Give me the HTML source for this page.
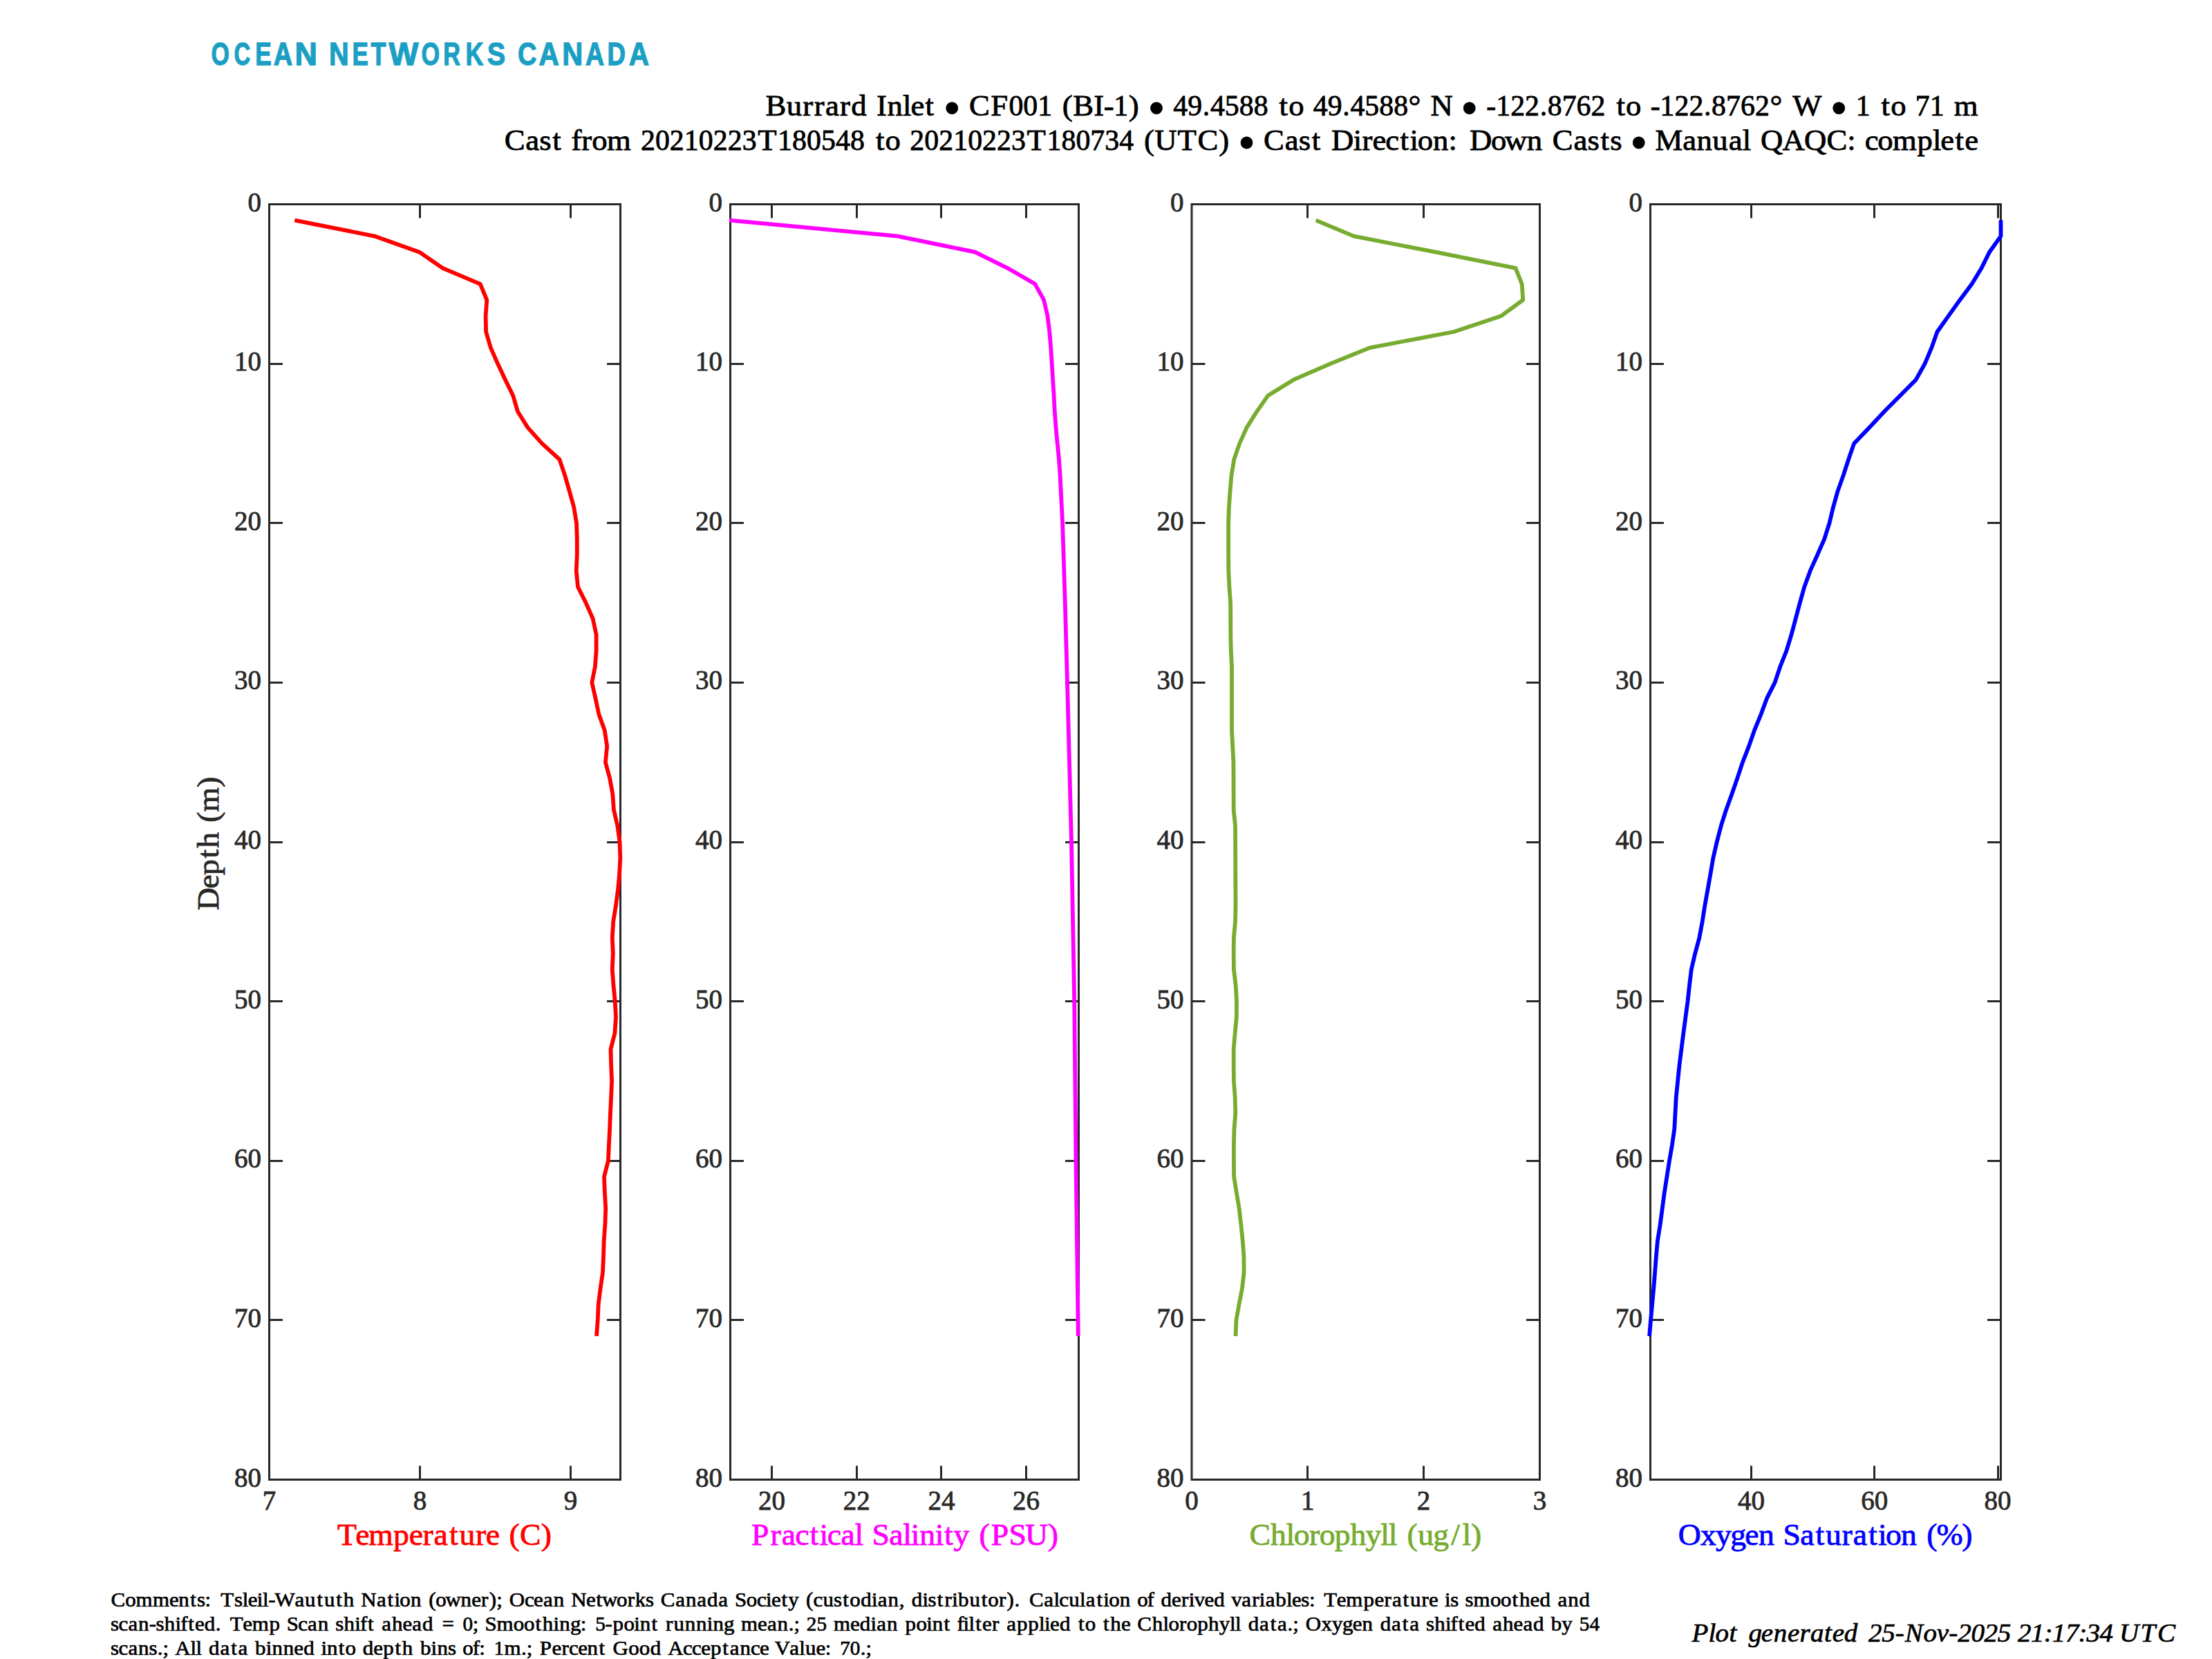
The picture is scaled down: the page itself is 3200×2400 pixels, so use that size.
<!DOCTYPE html>
<html lang="en"><head><meta charset="utf-8"><title>CTD cast plot</title>
<style>
html,body{margin:0;padding:0;background:#fff}
svg{display:block}
text{font-family:"Liberation Serif", serif}
.tk{font-size:39px;fill:#282828;stroke:#282828;stroke-width:.8px}
.lb{font-size:45.5px}
.tt{fill:#000;stroke:#000;stroke-width:.8px}
.cm{fill:#000;stroke:#000;stroke-width:.7px}
.pg{font-style:italic;fill:#000;stroke:#000;stroke-width:.7px}
.lg{font-family:"Liberation Sans",sans-serif;font-weight:700;fill:#1b9fc4;stroke:#1b9fc4}
</style></head><body>
<svg width="3200" height="2400" viewBox="0 0 3200 2400">
<rect width="3200" height="2400" fill="#fff"/>
<g><rect x="389.5" y="295.5" width="508.0" height="1845.0" fill="none" stroke="#282828" stroke-width="3"/>
<path d="M389.5 526.5h19.5 M897.5 526.5h-19.5 M389.5 756.5h19.5 M897.5 756.5h-19.5 M389.5 987.5h19.5 M897.5 987.5h-19.5 M389.5 1218.5h19.5 M897.5 1218.5h-19.5 M389.5 1448.5h19.5 M897.5 1448.5h-19.5 M389.5 1679.5h19.5 M897.5 1679.5h-19.5 M389.5 1909.5h19.5 M897.5 1909.5h-19.5 M607.5 2140.5v-20 M607.5 295.5v20 M825.5 2140.5v-20 M825.5 295.5v20" stroke="#282828" stroke-width="3" fill="none"/>
<text x="378.0" y="305.5" text-anchor="end" class="tk">0</text>
<text x="378.0" y="536.1" text-anchor="end" class="tk">10</text>
<text x="378.0" y="766.8" text-anchor="end" class="tk">20</text>
<text x="378.0" y="997.4" text-anchor="end" class="tk">30</text>
<text x="378.0" y="1228.0" text-anchor="end" class="tk">40</text>
<text x="378.0" y="1458.6" text-anchor="end" class="tk">50</text>
<text x="378.0" y="1689.2" text-anchor="end" class="tk">60</text>
<text x="378.0" y="1919.9" text-anchor="end" class="tk">70</text>
<text x="378.0" y="2150.5" text-anchor="end" class="tk">80</text>
<text x="389.5" y="2184.3" text-anchor="middle" class="tk">7</text>
<text x="607.5" y="2184.3" text-anchor="middle" class="tk">8</text>
<text x="825.5" y="2184.3" text-anchor="middle" class="tk">9</text>
<g transform="translate(643.5 2235.0)" class="lb"><text transform="scale(1.05 1)" x="-148.2 -123.2 -105.1 -71.0 -49.4 -30.4 -15.2 6.1 20.0 42.4 56.5 75.0 88.6 103.4 132.7" y="0" font-size="43.50" fill="#ff0000" stroke="#ff0000" stroke-width=".8">Temperature (C)</text></g>
<polyline points="426.3,318.6 541.6,341.6 606.7,364.7 640.4,387.8 694.7,410.8 704.3,433.9 702.6,456.9 703.1,480.0 709.9,503.1 720.0,526.1 730.9,549.2 742.2,572.2 748.9,595.3 763.4,618.4 783.9,641.4 809.3,664.5 817.2,687.6 823.8,710.6 830.2,733.7 834.0,756.8 834.8,779.8 834.8,802.9 833.7,825.9 836.0,849.0 847.6,872.1 857.7,895.1 862.6,918.2 862.6,941.2 860.9,964.3 856.3,987.4 861.5,1010.4 866.4,1033.5 874.7,1056.6 878.2,1079.6 875.9,1102.7 882.1,1125.8 886.3,1148.8 888.0,1171.9 893.4,1194.9 896.5,1218.0 897.3,1241.1 896.1,1264.1 894.0,1287.2 890.9,1310.2 887.2,1333.3 885.8,1356.4 886.8,1379.4 885.8,1402.5 887.5,1425.6 889.7,1448.6 891.0,1471.7 889.4,1494.8 883.5,1517.8 884.1,1540.9 885.1,1563.9 884.1,1587.0 883.0,1610.1 882.1,1633.1 880.9,1656.2 879.9,1679.2 874.0,1702.3 874.9,1725.4 876.2,1748.4 875.4,1771.5 873.7,1794.6 873.0,1817.6 872.0,1840.7 868.6,1863.8 865.7,1886.8 864.7,1909.9 863.0,1932.9" fill="none" stroke="#ff0000" stroke-width="5.8" stroke-linejoin="round" stroke-linecap="butt"/></g>
<g><rect x="1056.5" y="295.5" width="504.0" height="1845.0" fill="none" stroke="#282828" stroke-width="3"/>
<path d="M1056.5 526.5h19.5 M1560.5 526.5h-19.5 M1056.5 756.5h19.5 M1560.5 756.5h-19.5 M1056.5 987.5h19.5 M1560.5 987.5h-19.5 M1056.5 1218.5h19.5 M1560.5 1218.5h-19.5 M1056.5 1448.5h19.5 M1560.5 1448.5h-19.5 M1056.5 1679.5h19.5 M1560.5 1679.5h-19.5 M1056.5 1909.5h19.5 M1560.5 1909.5h-19.5 M1116.5 2140.5v-20 M1116.5 295.5v20 M1239.5 2140.5v-20 M1239.5 295.5v20 M1361.5 2140.5v-20 M1361.5 295.5v20 M1484.5 2140.5v-20 M1484.5 295.5v20" stroke="#282828" stroke-width="3" fill="none"/>
<text x="1045.0" y="305.5" text-anchor="end" class="tk">0</text>
<text x="1045.0" y="536.1" text-anchor="end" class="tk">10</text>
<text x="1045.0" y="766.8" text-anchor="end" class="tk">20</text>
<text x="1045.0" y="997.4" text-anchor="end" class="tk">30</text>
<text x="1045.0" y="1228.0" text-anchor="end" class="tk">40</text>
<text x="1045.0" y="1458.6" text-anchor="end" class="tk">50</text>
<text x="1045.0" y="1689.2" text-anchor="end" class="tk">60</text>
<text x="1045.0" y="1919.9" text-anchor="end" class="tk">70</text>
<text x="1045.0" y="2150.5" text-anchor="end" class="tk">80</text>
<text x="1116.5" y="2184.3" text-anchor="middle" class="tk">20</text>
<text x="1239.3" y="2184.3" text-anchor="middle" class="tk">22</text>
<text x="1361.9" y="2184.3" text-anchor="middle" class="tk">24</text>
<text x="1484.5" y="2184.3" text-anchor="middle" class="tk">26</text>
<g transform="translate(1308.5 2235.0)" class="lb"><text transform="scale(1.05 1)" x="-210.9 -184.7 -169.4 -150.6 -130.4 -117.1 -106.4 -87.6 -68.5 -56.9 -44.7 -21.2 -2.1 8.9 20.7 42.1 54.8 67.7 89.1 102.8 119.3 143.9 166.3 197.4" y="0" font-size="43.50" fill="#ff00ff" stroke="#ff00ff" stroke-width=".8">Practical Salinity (PSU)</text></g>
<polyline points="1055.0,318.6 1298.4,341.6 1410.5,364.7 1457.5,387.8 1497.3,410.8 1510.1,433.9 1515.4,456.9 1518.3,480.0 1520.2,503.1 1521.7,526.1 1523.1,549.2 1524.6,572.2 1525.8,595.3 1527.5,618.4 1529.7,641.4 1532.0,664.5 1533.6,687.6 1537.1,756.8 1540.8,872.1 1544.0,987.4 1550.0,1218.0 1554.2,1448.6 1556.5,1679.2 1559.8,1932.9" fill="none" stroke="#ff00ff" stroke-width="5.8" stroke-linejoin="round" stroke-linecap="butt"/></g>
<g><rect x="1724.0" y="295.5" width="503.5" height="1845.0" fill="none" stroke="#282828" stroke-width="3"/>
<path d="M1724.0 526.5h19.5 M2227.5 526.5h-19.5 M1724.0 756.5h19.5 M2227.5 756.5h-19.5 M1724.0 987.5h19.5 M2227.5 987.5h-19.5 M1724.0 1218.5h19.5 M2227.5 1218.5h-19.5 M1724.0 1448.5h19.5 M2227.5 1448.5h-19.5 M1724.0 1679.5h19.5 M2227.5 1679.5h-19.5 M1724.0 1909.5h19.5 M2227.5 1909.5h-19.5 M1891.5 2140.5v-20 M1891.5 295.5v20 M2059.5 2140.5v-20 M2059.5 295.5v20" stroke="#282828" stroke-width="3" fill="none"/>
<text x="1712.5" y="305.5" text-anchor="end" class="tk">0</text>
<text x="1712.5" y="536.1" text-anchor="end" class="tk">10</text>
<text x="1712.5" y="766.8" text-anchor="end" class="tk">20</text>
<text x="1712.5" y="997.4" text-anchor="end" class="tk">30</text>
<text x="1712.5" y="1228.0" text-anchor="end" class="tk">40</text>
<text x="1712.5" y="1458.6" text-anchor="end" class="tk">50</text>
<text x="1712.5" y="1689.2" text-anchor="end" class="tk">60</text>
<text x="1712.5" y="1919.9" text-anchor="end" class="tk">70</text>
<text x="1712.5" y="2150.5" text-anchor="end" class="tk">80</text>
<text x="1724.0" y="2184.3" text-anchor="middle" class="tk">0</text>
<text x="1891.8" y="2184.3" text-anchor="middle" class="tk">1</text>
<text x="2059.6" y="2184.3" text-anchor="middle" class="tk">2</text>
<text x="2227.5" y="2184.3" text-anchor="middle" class="tk">3</text>
<g transform="translate(1975.8 2235.0)" class="lb"><text transform="scale(1.05 1)" x="-160.2 -131.2 -109.8 -99.2 -77.8 -63.8 -42.8 -21.3 -0.3 20.5 31.5 43.1 56.8 71.9 92.9 117.6 133.0 145.0" y="0" font-size="43.50" fill="#77ac30" stroke="#77ac30" stroke-width=".8">Chlorophyll (ug/l)</text></g>
<polyline points="1903.6,318.6 1958.5,341.6 2076.7,364.7 2192.5,387.8 2201.6,410.8 2203.3,433.9 2172.0,456.9 2103.2,480.0 1981.5,503.1 1924.8,526.1 1871.7,549.2 1834.4,572.2 1818.2,595.3 1803.7,618.4 1793.3,641.4 1785.3,664.5 1781.5,687.6 1779.5,710.6 1777.9,733.7 1777.1,756.8 1777.1,779.8 1777.1,802.9 1777.3,825.9 1778.4,849.0 1780.1,872.1 1780.3,895.1 1780.3,918.2 1780.8,941.2 1782.0,964.3 1782.0,987.4 1782.0,1056.6 1784.4,1102.7 1784.7,1171.9 1787.0,1194.9 1787.5,1310.2 1787.0,1333.3 1784.9,1356.4 1784.7,1379.4 1784.9,1402.5 1787.7,1425.6 1789.0,1448.6 1788.8,1471.7 1786.6,1494.8 1784.7,1517.8 1784.7,1540.9 1784.9,1563.9 1786.6,1587.0 1787.3,1610.1 1785.5,1633.1 1784.9,1656.2 1784.9,1679.2 1785.1,1702.3 1788.8,1725.4 1792.7,1748.4 1795.3,1771.5 1797.7,1794.6 1799.4,1817.6 1799.6,1840.7 1797.0,1863.8 1792.5,1886.8 1788.4,1909.9 1787.5,1932.9" fill="none" stroke="#77ac30" stroke-width="5.8" stroke-linejoin="round" stroke-linecap="butt"/></g>
<g><rect x="2387.5" y="295.5" width="507.0" height="1845.0" fill="none" stroke="#282828" stroke-width="3"/>
<path d="M2387.5 526.5h19.5 M2894.5 526.5h-19.5 M2387.5 756.5h19.5 M2894.5 756.5h-19.5 M2387.5 987.5h19.5 M2894.5 987.5h-19.5 M2387.5 1218.5h19.5 M2894.5 1218.5h-19.5 M2387.5 1448.5h19.5 M2894.5 1448.5h-19.5 M2387.5 1679.5h19.5 M2894.5 1679.5h-19.5 M2387.5 1909.5h19.5 M2894.5 1909.5h-19.5 M2533.5 2140.5v-20 M2533.5 295.5v20 M2711.5 2140.5v-20 M2711.5 295.5v20 M2890.5 2140.5v-20 M2890.5 295.5v20" stroke="#282828" stroke-width="3" fill="none"/>
<text x="2376.0" y="305.5" text-anchor="end" class="tk">0</text>
<text x="2376.0" y="536.1" text-anchor="end" class="tk">10</text>
<text x="2376.0" y="766.8" text-anchor="end" class="tk">20</text>
<text x="2376.0" y="997.4" text-anchor="end" class="tk">30</text>
<text x="2376.0" y="1228.0" text-anchor="end" class="tk">40</text>
<text x="2376.0" y="1458.6" text-anchor="end" class="tk">50</text>
<text x="2376.0" y="1689.2" text-anchor="end" class="tk">60</text>
<text x="2376.0" y="1919.9" text-anchor="end" class="tk">70</text>
<text x="2376.0" y="2150.5" text-anchor="end" class="tk">80</text>
<text x="2533.5" y="2184.3" text-anchor="middle" class="tk">40</text>
<text x="2711.7" y="2184.3" text-anchor="middle" class="tk">60</text>
<text x="2890.0" y="2184.3" text-anchor="middle" class="tk">80</text>
<g transform="translate(2641.0 2235.0)" class="lb"><text transform="scale(1.05 1)" x="-203.1 -172.4 -151.4 -131.1 -111.1 -92.5 -70.6 -58.5 -35.1 -13.8 0.1 22.5 37.8 59.1 72.3 82.9 103.8 125.7 139.4 152.8 187.9" y="0" font-size="43.50" fill="#0000ff" stroke="#0000ff" stroke-width=".8">Oxygen Saturation (%)</text></g>
<polyline points="2894.5,318.6 2894.5,341.6 2878.0,364.7 2866.6,387.8 2852.6,410.8 2835.3,433.9 2818.9,456.9 2802.5,480.0 2794.3,503.1 2784.6,526.1 2771.8,549.2 2748.9,572.2 2726.0,595.3 2704.3,618.4 2682.2,641.4 2674.2,664.5 2666.7,687.6 2658.5,710.6 2652.0,733.7 2646.5,756.8 2639.2,779.8 2629.1,802.9 2618.7,825.9 2610.3,849.0 2603.8,872.1 2597.7,895.1 2591.5,918.2 2584.5,941.2 2575.3,964.3 2567.6,987.4 2556.0,1010.4 2547.5,1033.5 2538.0,1056.6 2530.0,1079.6 2521.0,1102.7 2513.3,1125.8 2505.4,1148.8 2497.0,1171.9 2489.7,1194.9 2483.7,1218.0 2478.4,1241.1 2474.5,1264.1 2470.4,1287.2 2466.3,1310.2 2462.7,1333.3 2458.4,1356.4 2452.2,1379.4 2446.8,1402.5 2444.0,1425.6 2441.5,1448.6 2435.3,1494.8 2429.5,1540.9 2424.8,1587.0 2422.3,1633.1 2419.0,1656.2 2415.0,1679.2 2407.8,1725.4 2401.7,1771.5 2398.0,1794.6 2395.9,1817.6 2392.3,1863.8 2388.0,1909.9 2386.1,1932.9" fill="none" stroke="#0000ff" stroke-width="5.8" stroke-linejoin="round" stroke-linecap="butt"/></g>
<g transform="translate(315.7 1219.8) rotate(-90)" class="lb"><text transform="scale(1.05 1)" x="-92.5 -62.6 -44.1 -20.6 -6.7 15.1 28.7 43.2 77.0" y="0" font-size="43.50" fill="#282828" stroke="#282828" stroke-width=".8">Depth (m)</text></g>
<text y="93.9" class="lg" font-size="45.5" stroke-width="1.3"><tspan x="305.5" textLength="26.3" lengthAdjust="spacingAndGlyphs">O</tspan><tspan x="338.4" textLength="23.7" lengthAdjust="spacingAndGlyphs">C</tspan><tspan x="369.2" textLength="23.5" lengthAdjust="spacingAndGlyphs">E</tspan><tspan x="395.8" textLength="27.4" lengthAdjust="spacingAndGlyphs">A</tspan><tspan x="426.6" textLength="32.4" lengthAdjust="spacingAndGlyphs">N</tspan> <tspan x="476.0" textLength="28.7" lengthAdjust="spacingAndGlyphs">N</tspan><tspan x="509.5" textLength="23.4" lengthAdjust="spacingAndGlyphs">E</tspan><tspan x="536.5" textLength="21.9" lengthAdjust="spacingAndGlyphs">T</tspan><tspan x="562.6" textLength="42.9" lengthAdjust="spacingAndGlyphs">W</tspan><tspan x="609.4" textLength="26.6" lengthAdjust="spacingAndGlyphs">O</tspan><tspan x="641.2" textLength="24.7" lengthAdjust="spacingAndGlyphs">R</tspan><tspan x="673.6" textLength="25.8" lengthAdjust="spacingAndGlyphs">K</tspan><tspan x="704.7" textLength="26.4" lengthAdjust="spacingAndGlyphs">S</tspan> <tspan x="749.0" textLength="27.4" lengthAdjust="spacingAndGlyphs">C</tspan><tspan x="779.6" textLength="29.3" lengthAdjust="spacingAndGlyphs">A</tspan><tspan x="813.2" textLength="30.0" lengthAdjust="spacingAndGlyphs">N</tspan><tspan x="846.9" textLength="27.0" lengthAdjust="spacingAndGlyphs">A</tspan><tspan x="878.6" textLength="26.4" lengthAdjust="spacingAndGlyphs">D</tspan><tspan x="909.8" textLength="29.3" lengthAdjust="spacingAndGlyphs">A</tspan></text>
<g transform="translate(2861.5 167.3)" class="tt"><text transform="scale(1.07 1)" x="-1639.3 -1611.1 -1589.0 -1573.7 -1558.5 -1538.8 -1523.7 -1502.4 -1489.2 -1474.7 -1453.8 -1443.1 -1423.3" y="0" font-size="41.80">Burrard Inlet</text> <text x="-1496.7" y="12.9" font-size="71.4">•</text> <text transform="scale(1.07 1)" x="-1364.0 -1334.8" y="0" font-size="41.80">CF</text><text x="-1402.1 -1381.2 -1360.2" y="0" font-size="41.80">001</text> <text transform="scale(1.07 1)" x="-1238.0 -1223.5 -1195.6 -1182.0" y="0" font-size="41.80">(BI-</text><text x="-1250.3" y="0" font-size="41.80">1</text><text transform="scale(1.07 1)" x="-1148.3" y="0" font-size="41.80">)</text> <text x="-1201.1" y="12.9" font-size="71.4">•</text> <text x="-1164.2 -1143.2 -1121.7 -1110.6 -1089.7 -1068.7 -1047.8" y="0" font-size="41.80">49.4588</text> <text transform="scale(1.07 1)" x="-944.8 -932.0" y="0" font-size="41.80">to</text> <text x="-961.7 -940.7 -919.2 -908.1 -887.2 -866.2 -845.3" y="0" font-size="41.80">49.4588</text><text transform="scale(1.07 1)" x="-770.0 -752.8 -740.2" y="0" font-size="41.80">° N</text> <text x="-748.2" y="12.9" font-size="71.4">•</text> <text x="-711.2 -697.3 -676.3 -655.4 -633.8 -622.8 -601.8 -580.9 -559.9" y="0" font-size="41.80">-122.8762</text> <text transform="scale(1.07 1)" x="-488.9 -476.1" y="0" font-size="41.80">to</text> <text x="-473.8 -459.9 -438.9 -418.0 -396.4 -385.4 -364.4 -343.5 -322.5" y="0" font-size="41.80">-122.8762</text><text transform="scale(1.07 1)" x="-281.4 -264.2 -250.8" y="0" font-size="41.80">° W</text> <text x="-213.8" y="12.9" font-size="71.4">•</text> <text x="-176.8" y="0" font-size="41.80">1</text> <text transform="scale(1.07 1)" x="-130.9 -118.1" y="0" font-size="41.80">to</text> <text x="-90.7 -69.8" y="0" font-size="41.80">71</text> <text transform="scale(1.07 1)" x="-32.6" y="0" font-size="41.80">m</text></g>
<g transform="translate(2861.5 217.3)" class="tt"><text transform="scale(1.07 1)" x="-1992.3 -1963.7 -1945.0 -1927.3 -1913.9 -1901.8 -1888.1 -1874.1 -1853.8" y="0" font-size="41.80">Cast from</text> <text x="-1934.6 -1913.6 -1892.7 -1871.7 -1850.7 -1829.7 -1808.7 -1787.7" y="0" font-size="41.80">20210223</text><text transform="scale(1.07 1)" x="-1649.8" y="0" font-size="41.80">T</text><text x="-1736.4 -1715.5 -1694.5 -1673.5 -1652.5 -1631.5" y="0" font-size="41.80">180548</text> <text transform="scale(1.07 1)" x="-1490.3 -1477.5" y="0" font-size="41.80">to</text> <text x="-1545.3 -1524.3 -1503.3 -1482.3 -1461.3 -1440.4 -1419.4 -1398.4" y="0" font-size="41.80">20210223</text><text transform="scale(1.07 1)" x="-1285.9" y="0" font-size="41.80">T</text><text x="-1347.1 -1326.1 -1305.1 -1284.2 -1263.2 -1242.2" y="0" font-size="41.80">180734</text> <text transform="scale(1.07 1)" x="-1127.6 -1113.4 -1082.2 -1055.1 -1026.3" y="0" font-size="41.80">(UTC)</text> <text x="-1070.6" y="12.9" font-size="71.4">•</text> <text transform="scale(1.07 1)" x="-965.8 -937.1 -918.5 -900.8 -887.3 -874.4 -844.7 -832.7 -818.6 -801.2 -781.4 -768.3 -757.7 -737.0 -716.0 -704.7 -687.4 -658.5 -639.8 -610.1 -588.7 -575.4 -546.8 -528.1 -510.4 -497.4" y="0" font-size="41.80">Cast Direction: Down Casts</text> <text x="-503.3" y="12.9" font-size="71.4">•</text> <text transform="scale(1.07 1)" x="-436.4 -399.3 -380.3 -359.1 -337.2 -318.5 -307.2 -294.0 -264.6 -235.1 -204.6 -176.8 -165.6 -153.1 -135.7 -115.4 -82.3 -61.3 -50.7 -30.9 -18.0" y="0" font-size="41.80">Manual QAQC: complete</text></g>
<g transform="translate(160.3 2323.5)" class="cm"><text transform="scale(1.06 1)" x="0.3 19.7 34.1 57.2 79.8 92.4 108.4 117.6 128.6 136.5 149.9 168.6 179.6 187.2 199.6 207.3 215.0 223.8 251.1 264.9 281.3 291.2 307.5 317.4 332.4 341.5 362.9 377.6 386.9 394.4 409.1 424.1 433.9 443.4 456.7 477.6 492.3 505.5 516.4 526.4 534.3 543.8 564.8 577.1 590.2 604.1 619.1 628.2 648.8 662.4 670.5 690.3 705.1 715.5 729.9 741.0 750.5 770.7 784.6 800.0 813.8 829.3 842.7 851.6 867.4 881.7 894.1 901.7 915.3 924.4 939.0 948.8 958.7 971.8 986.6 999.1 1008.5 1023.6 1038.4 1046.7 1060.6 1075.8 1083.3 1092.9 1107.8 1115.4 1127.9 1138.0 1148.1 1156.4 1171.8 1188.2 1197.2 1212.0 1222.9 1233.3 1240.8 1253.4 1273.6 1286.9 1294.4 1307.5 1322.3 1330.7 1345.4 1354.7 1362.2 1376.9 1391.9 1400.8 1414.4 1423.5 1433.1 1447.8 1461.0 1471.1 1478.7 1492.6 1505.6 1520.6 1529.1 1543.4 1557.4 1567.5 1575.9 1589.7 1604.5 1612.1 1624.5 1635.5 1643.4 1655.6 1673.1 1685.9 1709.6 1724.7 1737.9 1748.7 1763.4 1773.3 1788.9 1798.9 1811.5 1820.5 1828.2 1839.4 1848.4 1859.7 1882.7 1896.9 1912.5 1922.4 1937.0 1950.1 1965.1 1974.8 1988.6 2004.0" y="0" font-size="29.20">Comments: Tsleil-Waututh Nation (owner); Ocean Networks Canada Society (custodian, distributor). Calculation of derived variables: Temperature is smoothed and</text></g>
<g transform="translate(160.3 2358.8)" class="cm"><text transform="scale(1.06 1)" x="-0.2 10.6 23.7 37.5 52.3 61.5 73.1 87.9 95.2 105.6 114.7 127.8 143.0 150.5 162.7 180.2 193.0 216.3 231.3 240.1 255.6 268.7 282.5 297.6 306.6 318.1 332.9 340.2 350.6 360.1 369.8 383.6 398.3 411.4 425.2 440.2 452.0" y="0" font-size="29.20">scan-shifted. Temp Scan shift ahead =</text> <text x="509.1" y="0" font-size="29.20">0</text><text transform="scale(1.06 1)" x="493.9 501.8 510.6 526.6 549.5 563.8 579.4 589.2 604.0 612.3 627.0 641.0" y="0" font-size="29.20">; Smoothing:</text> <text x="700.9" y="0" font-size="29.20">5</text><text transform="scale(1.06 1)" x="674.8 685.1 700.1 714.2 722.1 738.0 747.5 757.3 768.0 783.4 798.8 813.6 822.0 836.6 850.8 860.2 882.8 895.9 909.7 924.9 932.2" y="0" font-size="29.20">-point running mean.;</text> <text x="1006.4 1021.1" y="0" font-size="29.20">25</text> <text transform="scale(1.06 1)" x="986.5 1009.1 1022.1 1036.9 1045.3 1059.1 1074.1 1084.2 1099.2 1113.2 1121.1 1137.1 1146.5 1154.9 1163.5 1171.0 1180.2 1189.4 1202.6 1212.9 1222.5 1236.4 1251.8 1266.6 1274.3 1281.9 1294.9 1309.9 1320.5 1329.6 1343.8 1354.4 1364.2 1378.9 1391.5 1401.0 1421.2 1436.0 1443.5 1458.3 1468.3 1482.9 1497.9 1512.6 1527.0 1534.7 1542.6 1552.2 1567.7 1582.4 1592.3 1605.9 1613.2 1621.2 1630.6 1652.0 1666.6 1680.9 1694.8 1707.8 1722.8 1732.5 1747.9 1762.7 1772.6 1786.0 1795.0 1806.5 1821.3 1828.6 1839.1 1848.2 1861.2 1876.2 1885.9 1899.7 1914.4 1927.5 1941.3 1956.3 1965.6 1980.2" y="0" font-size="29.20">median point filter applied to the Chlorophyll data.; Oxygen data shifted ahead by</text> <text x="2124.4 2139.1" y="0" font-size="29.20">54</text></g>
<g transform="translate(160.3 2393.6)" class="cm"><text transform="scale(1.06 1)" x="-0.2 10.6 23.7 37.5 52.2 63.6 70.9 78.8 87.8 108.6 116.3 124.2 133.8 149.2 164.0 173.8 187.3 196.9 211.7 220.0 235.4 250.0 263.1 278.1 287.1 295.0 310.9 320.0 334.2 343.9 358.5 371.6 387.9 397.7 412.7 422.3 437.1 445.4 460.2 471.4 480.2 493.8 502.7" y="0" font-size="29.20">scans.; All data binned into depth bins of:</text> <text x="554.3" y="0" font-size="29.20">1</text><text transform="scale(1.06 1)" x="536.9 560.0 567.3 575.2 585.4 602.2 615.4 625.3 637.6 650.3 666.2 675.7 685.2 706.6 721.3 736.3 751.3 760.3 780.9 793.2 805.5 818.6 834.9 844.8 858.6 873.3 885.5 898.2 906.1 926.3 939.5 947.8 962.5 974.9" y="0" font-size="29.20">m.; Percent Good Acceptance Value:</text> <text x="1054.9 1069.5" y="0" font-size="29.20">70</text><text transform="scale(1.06 1)" x="1023.0 1030.3" y="0" font-size="29.20">.;</text></g>
<g transform="translate(2447.0 2375.0)" class="pg"><text transform="scale(1.04 1)" x="0.5 23.5 33.2 52.5 63.7 79.3 96.9 114.3 133.7 150.6 165.3 184.7 195.8 212.2 230.8 246.2 264.6 283.4 297.0 322.7 341.2 358.0 370.5 388.9 407.3 425.7 444.3 453.8 472.2 490.1 501.7 520.1 537.9 549.5 567.9 586.5 595.1 624.5 648.2" y="0" font-size="37.50">Plot generated 25-Nov-2025 21:17:34 UTC</text></g>
</svg>
</body></html>
